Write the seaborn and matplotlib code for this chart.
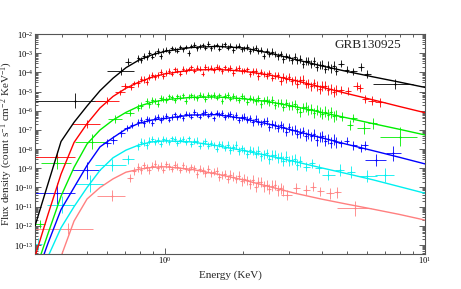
import numpy as np
import pandas as pd
import matplotlib
matplotlib.use("Agg")
import matplotlib.pyplot as plt
import seaborn as sns
from matplotlib.ticker import LogLocator, LogFormatterSciNotation, NullFormatter

nan = np.nan

# fine bins (keV edges) used for the well exposed part of every spectrum
edges = [0.780, 0.800, 0.819, 0.840, 0.861, 0.882, 0.905, 0.927, 0.950, 0.974,
         0.998, 1.023, 1.049, 1.075, 1.102, 1.130, 1.158, 1.187, 1.217, 1.247,
         1.278, 1.310, 1.343, 1.377, 1.411, 1.446, 1.483, 1.520, 1.558, 1.597,
         1.637, 1.677, 1.719, 1.762, 1.806, 1.852, 1.898, 1.945, 1.994, 2.044,
         2.095, 2.147, 2.201, 2.256, 2.312, 2.370, 2.429, 2.490, 2.552, 2.616,
         2.682, 2.749, 2.817, 2.888, 2.960, 3.034, 3.110, 3.187, 3.267, 3.349,
         3.433, 3.518, 3.606, 3.697, 3.789, 3.884, 3.981, 4.080, 4.182, 4.287,
         4.394, 4.504, 4.617]

# model curves, log10 flux at log10 energy
model_loge = [-0.5, -0.45, -0.4, -0.35, -0.3, -0.25, -0.2, -0.15, -0.1, -0.05, 0.0,
              0.1, 0.2, 0.3, 0.4, 0.5, 0.6, 0.7, 0.8, 0.9, 1.0]
black_model = [-12.0, -9.8, -7.6, -6.6, -5.75, -4.95, -4.3, -3.75, -3.35, -3.08, -2.9,
               -2.7, -2.64, -2.72, -2.98, -3.32, -3.65, -3.95, -4.23, -4.5, -4.78]
red_model = [-13.6, -11.4, -9.3, -7.65, -6.67, -5.85, -5.25, -4.82, -4.5, -4.25, -4.07,
             -3.88, -3.84, -3.93, -4.13, -4.42, -4.76, -5.1, -5.43, -5.77, -6.1]
green_model = [-14.4, -12.4, -10.45, -8.95, -7.73, -7.0, -6.48, -6.08, -5.76, -5.55, -5.42,
               -5.3, -5.28, -5.37, -5.53, -5.78, -6.08, -6.37, -6.67, -6.96, -7.26]
blue_model = [-14.8, -12.9, -11.15, -10.0, -8.85, -7.88, -7.4, -6.95, -6.65, -6.48, -6.4,
              -6.22, -6.2, -6.4, -6.7, -7.05, -7.4, -7.75, -8.08, -8.42, -8.77]
cyan_model = [-15.5, -13.6, -12.1, -11.0, -10.0, -9.1, -8.45, -8.05, -7.78, -7.62, -7.57,
              -7.62, -7.82, -8.07, -8.35, -8.65, -8.97, -9.28, -9.6, -9.95, -10.3]
pink_model = [-17.0, -15.5, -13.6, -11.75, -10.6, -10.0, -9.55, -9.2, -9.05, -8.95, -8.92,
              -9.05, -9.3, -9.6, -9.95, -10.3, -10.6, -10.87, -11.13, -11.4, -11.7]

# fine-bin data, log10 flux and error (dex)
black_flux = [-3.27, -3.35, -3.12, -3.21, -2.98, -3.18, -3.01, -2.90, -3.15, -2.88,
              -2.82, -2.91, -2.72, -2.80, -2.88, -2.67, -2.78, -2.68, -2.98, -2.62,
              -2.55, -2.74, -2.64, -2.57, -2.70, -2.50, -2.75, -2.64, -2.57, -2.77,
              -2.60, -2.54, -2.71, -2.60, -2.83, -2.66, -2.61, -2.79, -2.73, -2.67,
              -2.89, -2.77, -2.71, -2.88, -2.83, -3.12, -2.87, -3.02, -2.91, -3.04,
              -3.16, -3.03, -3.31, -3.15, -3.21, -3.37, -3.19, -3.37, -3.31, -3.58,
              -3.41, -3.40, -3.57, -3.42, -3.69, -3.61, -3.60, -3.81, -3.65, -3.79,
              -3.64, -3.90]
black_err = [.17, .15, .16, .14, .15, .14, .13, .15, .14, .13,
             .13, .14, .12, .13, .13, .12, .13, .12, .14, .12,
             .12, .13, .12, .12, .13, .12, .13, .12, .12, .13,
             .13, .12, .13, .13, .14, .13, .13, .14, .13, .14,
             .14, .15, .14, .15, .15, .16, .15, .16, .16, .17,
             .17, .16, .18, .17, .18, .19, .18, .19, .20, .19,
             .20, .21, .20, .22, .21, .22, .23, .22, .24, .23,
             .25, .24]
red_flux = [-4.56, -4.35, -4.38, -4.49, -4.23, -4.13, -4.24, -4.12, -3.99, -4.18,
            -4.03, -3.93, -4.07, -3.83, -3.92, -4.06, -3.81, -3.92, -3.82, -3.72,
            -3.92, -3.75, -3.80, -4.08, -3.72, -3.80, -3.75, -3.87, -3.69, -3.77,
            -3.92, -3.73, -3.83, -3.77, -4.01, -3.81, -3.77, -3.94, -3.89, -3.84,
            -4.07, -3.95, -3.92, -4.20, -3.99, -4.07, -4.17, -4.03, -4.27, -4.16,
            -4.14, -4.44, -4.23, -4.34, -4.24, -4.45, -4.39, -4.58, -4.41, -4.38,
            -4.60, -4.58, -4.72, -4.57, -4.71, -4.88, -4.71, -4.69, -4.91, -4.85,
            -5.02, -4.91]
red_err = [.18, .17, .17, .16, .16, .15, .15, .16, .15, .14,
           .14, .15, .14, .14, .13, .14, .13, .14, .13, .13,
           .13, .14, .13, .13, .14, .13, .13, .14, .13, .14,
           .14, .13, .14, .14, .15, .14, .15, .15, .14, .15,
           .15, .16, .16, .17, .16, .17, .18, .17, .18, .19,
           .18, .19, .20, .19, .21, .20, .21, .22, .21, .23,
           .22, .23, .24, .23, .25, .24, .26, .25, .27, .26,
           .28, .27]
green_flux = [nan, nan, nan, -5.49, -5.66, -5.46, -5.49, -5.62, -5.34, -5.37,
              -5.43, -5.24, -5.30, -5.45, -5.25, -5.32, -5.20, -5.48, -5.26, -5.19,
              -5.28, -5.35, -5.15, -5.21, -5.39, -5.18, -5.25, -5.16, -5.32, -5.20,
              -5.49, -5.23, -5.19, -5.36, -5.23, -5.32, -5.44, -5.23, -5.33, -5.53,
              -5.33, -5.40, -5.51, -5.35, -5.65, -5.44, -5.43, -5.56, -5.44, -5.70,
              -5.57, -5.57, -5.82, -5.59, -5.77, -5.73, -5.66, -5.89, -6.06, -5.81,
              -5.80, -5.96, -5.91, -6.12, -5.95, -6.05, -6.19, -6.05, -6.20, -6.08,
              -6.29, -6.22]
green_err = [.19, .18, .18, .17, .17, .16, .16, .16, .15, .15,
             .15, .14, .15, .14, .14, .14, .15, .14, .14, .14,
             .14, .15, .14, .14, .15, .14, .14, .15, .14, .15,
             .15, .15, .16, .15, .16, .16, .16, .17, .16, .17,
             .17, .18, .17, .18, .19, .18, .19, .20, .19, .20,
             .21, .20, .21, .22, .21, .23, .22, .23, .24, .23,
             .25, .24, .25, .26, .25, .27, .26, .28, .27, .28,
             .29, .28]
blue_flux = [-6.60, -6.49, -6.65, -6.45, -6.49, -6.63, -6.37, -6.30, -6.47, -6.35,
             -6.28, -6.46, -6.32, -6.19, -6.34, -6.22, -6.40, -6.15, -6.21, -6.30,
             -6.06, -6.21, -6.31, -6.12, -6.07, -6.25, -6.13, -6.39, -6.11, -6.19,
             -6.10, -6.32, -6.20, -6.15, -6.34, -6.24, -6.50, -6.34, -6.31, -6.46,
             -6.40, -6.61, -6.41, -6.56, -6.67, -6.54, -6.53, -6.83, -6.68, -6.74,
             -6.90, -6.74, -6.86, -7.09, -6.87, -7.02, -6.98, -7.19, -7.16, -7.07,
             -7.33, -7.19, -7.34, -7.20, -7.54, -7.35, -7.34, -7.55, -7.47, -7.66,
             -7.51, -7.64]
blue_err = [.18, .17, .17, .16, .16, .16, .15, .15, .15, .14,
            .14, .15, .14, .14, .14, .13, .14, .14, .13, .14,
            .14, .13, .14, .14, .14, .15, .14, .14, .15, .15,
            .15, .16, .15, .16, .16, .17, .16, .17, .17, .18,
            .18, .19, .18, .19, .20, .19, .20, .21, .20, .21,
            .22, .21, .22, .23, .23, .24, .23, .24, .25, .24,
            .25, .26, .25, .26, .27, .26, .27, .28, .27, .29,
            .28, .29]
cyan_flux = [-7.86, -7.61, -7.67, -7.80, -7.55, -7.45, -7.64, -7.52, -7.74, -7.46,
             -7.53, -7.64, -7.43, -7.49, -7.70, -7.53, -7.47, -7.63, -7.44, -7.72,
             -7.57, -7.55, -7.82, -7.68, -7.57, -7.81, -7.67, -7.77, -7.99, -7.72,
             -7.78, -7.93, -7.77, -8.04, -7.91, -7.79, -8.10, -7.96, -8.07, -8.24,
             -8.03, -8.11, -8.25, -8.08, -8.38, -8.26, -8.22, -8.53, -8.32, -8.29,
             -8.47, -8.39, -8.61, -8.39, -8.64, -8.57, -8.52, -8.81, -8.63]
cyan_err = [.19, .18, .18, .17, .17, .16, .16, .16, .15, .15,
            .15, .15, .14, .15, .14, .15, .15, .14, .15, .15,
            .15, .16, .15, .16, .16, .16, .17, .16, .17, .17,
            .18, .17, .18, .19, .18, .19, .20, .19, .20, .21,
            .21, .22, .21, .22, .23, .23, .24, .23, .25, .24,
            .25, .26, .25, .27, .26, .28, .27, .29, .28]
pink_flux = [-8.95, -9.09, -8.85, -8.95, -9.10, -8.86, -8.75, -8.96, -8.86, -9.10,
             -8.80, -8.90, -9.03, -8.81, -8.92, -9.10, -8.83, -9.02, -9.09, -8.93,
             -9.00, -9.31, -9.02, -9.11, -9.27, -9.05, -9.27, -9.17, -9.15, -9.44,
             -9.33, -9.29, -9.57, -9.33, -9.43, -9.56, -9.38, -9.68, -9.54, -9.62,
             -9.82, -9.61, -9.98, -9.73, -9.71, -9.94, -9.88, -10.07, -9.90, -9.87,
             -10.14, -10.05, -10.15]
pink_err = [.22, .21, .20, .20, .19, .19, .18, .18, .18, .17,
            .17, .18, .17, .17, .18, .17, .18, .18, .17, .18,
            .18, .19, .18, .19, .19, .20, .19, .20, .20, .21,
            .21, .22, .21, .22, .23, .22, .23, .24, .23, .24,
            .25, .24, .25, .26, .25, .27, .26, .27, .28, .27,
            .28, .29, .28]

# wide low-count bins: energy, half width (keV), log10 flux, error (dex)
black_sp_e = [0.45, 0.68, 0.72, 4.75, 5.0, 5.3, 5.65, 6.0, 7.65]
black_sp_de = [0.137, 0.08, 0.02, 0.12, 0.12, 0.15, 0.15, 0.18, 1.35]
black_sp_f = [-5.47, -3.91, -3.45, -3.55, -3.85, -3.95, -3.72, -4.08, -4.6]
black_sp_err = [0.40, 0.22, 0.18, 0.18, 0.2, 0.2, 0.2, 0.22, 0.26]
red_sp_e = [0.383, 0.50, 0.60, 0.67, 0.70, 0.74, 0.76, 4.75, 5.05, 5.45, 5.6, 5.9, 6.25, 6.7]
red_sp_de = [0.067, 0.06, 0.063, 0.03, 0.02, 0.02, 0.015, 0.12, 0.13, 0.15, 0.15, 0.2, 0.2, 0.3]
red_sp_f = [-8.4, -6.69, -5.47, -5.04, -4.69, -4.75, -4.55, -4.9, -4.95, -4.72, -4.8, -5.39, -5.47, -5.56]
red_sp_err = [0.3, 0.23, 0.17, 0.15, 0.15, 0.14, 0.13, 0.2, 0.2, 0.2, 0.2, 0.22, 0.22, 0.25]
green_sp_e = [0.33, 0.383, 0.522, 0.643, 0.733, 0.79, 0.81, 4.8, 5.15, 5.3, 5.8, 6.3, 8.0]
green_sp_de = [0.015, 0.05, 0.07, 0.04, 0.03, 0.01, 0.01, 0.12, 0.15, 0.15, 0.35, 0.25, 1.3]
green_sp_f = [-11.9, -8.7, -7.61, -6.43, -6.13, -5.85, -5.73, -6.30, -6.74, -6.39, -6.91, -6.65, -7.35]
green_sp_err = [0.2, 0.35, 0.4, 0.2, 0.15, 0.18, 0.18, 0.22, 0.25, 0.22, 0.3, 0.28, 0.5]
blue_sp_e = [0.383, 0.50, 0.597, 0.632, 0.68, 0.713, 0.745, 4.75, 5.0, 5.3, 5.65, 5.85, 6.5, 7.55]
blue_sp_de = [0.067, 0.06, 0.02, 0.02, 0.02, 0.02, 0.015, 0.12, 0.12, 0.15, 0.15, 0.2, 0.6, 0.5]
blue_sp_f = [-10.3, -9.1, -7.69, -7.52, -7.17, -6.91, -6.75, -7.7, -7.55, -7.8, -7.95, -7.8, -8.56, -8.21]
blue_sp_err = [0.55, 0.45, 0.2, 0.2, 0.18, 0.16, 0.15, 0.2, 0.2, 0.22, 0.22, 0.22, 0.3, 0.4]
cyan_sp_e = [0.325, 0.40, 0.515, 0.624, 0.722, 3.5, 3.67, 3.9, 4.25, 4.7, 5.2, 6.0, 7.0]
cyan_sp_de = [0.01, 0.048, 0.065, 0.085, 0.04, 0.1, 0.1, 0.12, 0.25, 0.2, 0.2, 0.55, 0.6]
cyan_sp_f = [-12.95, -10.9, -9.8, -8.82, -8.53, -8.91, -8.74, -9.0, -9.34, -9.08, -9.2, -9.4, -9.34]
cyan_sp_err = [0.3, 0.45, 0.45, 0.3, 0.25, 0.25, 0.25, 0.25, 0.25, 0.3, 0.3, 0.3, 0.35]
pink_sp_e = [0.422, 0.624, 0.733, 0.76, 2.94, 3.2, 3.5, 3.7, 3.95, 4.3, 4.6, 5.4]
pink_sp_de = [0.106, 0.075, 0.02, 0.015, 0.15, 0.1, 0.1, 0.1, 0.12, 0.15, 0.15, 0.8]
pink_sp_f = [-12.15, -10.42, -9.52, -9.15, -10.39, -10.04, -10.13, -9.95, -10.2, -10.3, -10.25, -11.08]
pink_sp_err = [0.3, 0.3, 0.2, 0.2, 0.25, 0.25, 0.25, 0.25, 0.25, 0.28, 0.3, 0.4]

spectra = [
    ("black", "#000000", black_model, black_flux, black_err, black_sp_e, black_sp_de, black_sp_f, black_sp_err),
    ("red", "#ff0000", red_model, red_flux, red_err, red_sp_e, red_sp_de, red_sp_f, red_sp_err),
    ("green", "#00ee00", green_model, green_flux, green_err, green_sp_e, green_sp_de, green_sp_f, green_sp_err),
    ("blue", "#0000ff", blue_model, blue_flux, blue_err, blue_sp_e, blue_sp_de, blue_sp_f, blue_sp_err),
    ("cyan", "#00f0f0", cyan_model, cyan_flux, cyan_err, cyan_sp_e, cyan_sp_de, cyan_sp_f, cyan_sp_err),
    ("pink", "#ff8080", pink_model, pink_flux, pink_err, pink_sp_e, pink_sp_de, pink_sp_f, pink_sp_err),
]

sns.set_theme(style="ticks")
plt.rcParams["font.family"] = ["Liberation Serif", "DejaVu Serif"]
plt.rcParams["mathtext.fontset"] = "stix"
plt.rcParams["mathtext.default"] = "regular"

fig, ax = plt.subplots(figsize=(4.61, 2.89), dpi=100)
fig.subplots_adjust(left=0.076, right=0.922, bottom=0.121, top=0.882)
ax.set_xscale("log")
ax.set_yscale("log")

edges = np.array(edges)
centers = np.sqrt(edges[:-1] * edges[1:])

rows = []
for name, color, model, flux, err, sp_e, sp_de, sp_f, sp_err in spectra:
    # fine bins
    n = len(flux)
    lf = np.array(flux)
    le = np.array(err)
    f = 10.0 ** lf
    ax.errorbar(centers[:n], f,
                xerr=[centers[:n] - edges[:n], edges[1:n + 1] - centers[:n]],
                yerr=[f - 10.0 ** (lf - le), 10.0 ** (lf + le) - f],
                fmt="none", ecolor=color, elinewidth=0.6, capsize=0, zorder=2)
    # wide bins
    se = np.array(sp_e)
    sf = np.array(sp_f)
    sr = np.array(sp_err)
    g = 10.0 ** sf
    ax.errorbar(se, g, xerr=np.array(sp_de),
                yerr=[g - 10.0 ** (sf - sr), 10.0 ** (sr + sf) - g],
                fmt="none", ecolor=color, elinewidth=0.6, capsize=0, zorder=2)
    pts = pd.DataFrame({"E": np.concatenate([centers[:n], se]),
                        "F": np.concatenate([f, g])}).dropna()
    sns.scatterplot(data=pts, x="E", y="F", color=color, s=2, linewidth=0, ax=ax, zorder=3)
    for x, y in zip(model_loge, model):
        rows.append({"spec": name, "E": 10.0 ** x, "F": 10.0 ** y})

models = pd.DataFrame(rows)
palette = {s[0]: s[1] for s in spectra}
sns.lineplot(data=models, x="E", y="F", hue="spec", palette=palette, estimator=None,
             sort=False, linewidth=1.0, legend=False, ax=ax, zorder=4)

ax.set_xlim(10 ** -0.5, 10)
ax.set_ylim(10 ** -13.47, 1e-2)

ax.xaxis.set_major_locator(LogLocator(base=10, numticks=10))
ax.xaxis.set_minor_locator(LogLocator(base=10, subs=np.arange(2, 10), numticks=10))
ax.yaxis.set_major_locator(LogLocator(base=10, numticks=30))
ax.yaxis.set_minor_locator(LogLocator(base=10, subs=np.arange(2, 10), numticks=30))
ax.xaxis.set_major_formatter(LogFormatterSciNotation())
ax.yaxis.set_major_formatter(LogFormatterSciNotation())
ax.xaxis.set_minor_formatter(NullFormatter())
ax.yaxis.set_minor_formatter(NullFormatter())

ax.tick_params(which="both", direction="in", top=True, right=True, colors="#444444",
               labelcolor="black", labelsize=6.1, width=0.6, pad=1.0)
ax.tick_params(which="major", length=4)
ax.tick_params(which="minor", length=2)
for sp in ax.spines.values():
    sp.set_color("#555555")
    sp.set_linewidth(0.8)

ax.set_xlabel("Energy (KeV)", fontsize=8, labelpad=3)
ax.set_ylabel("Flux density (count s$^{-1}$ cm$^{-2}$ KeV$^{-1}$)", fontsize=8)
ax.yaxis.set_label_coords(-0.052, 0.5)
ax.text(0.853, 0.95, "GRB130925", transform=ax.transAxes, fontsize=9.5,
        ha="center", va="center")

fig.savefig("out.png", dpi=100)
